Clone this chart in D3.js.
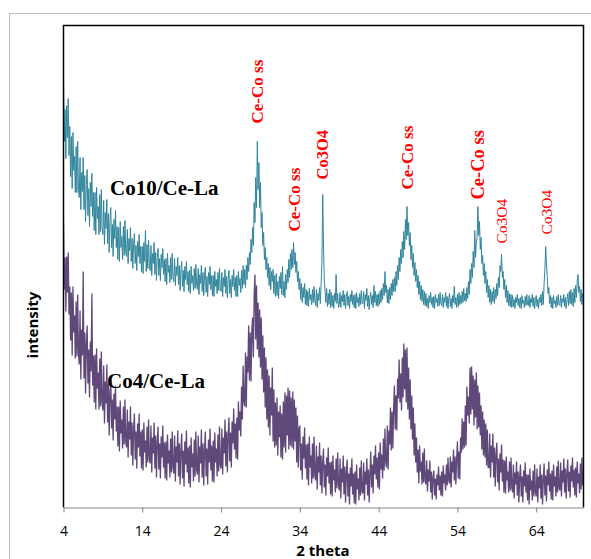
<!DOCTYPE html>
<html>
  <head>
    <title>XRD patterns Co10/Ce-La and Co4/Ce-La</title>
    <script src="https://d3js.org/d3.v7.min.js"></script>
    <style>
      body { margin: 0; background: #fff; }
      .tick text { font-family: "Open Sans", sans-serif; font-size: 14px; fill: #000; }
      .tick line, .domain { stroke: #868686; }
    </style>
  </head>
  <body>
    <div id="chart"></div>
    <script>
      // 2 theta grid of the scans: start and step (degrees)
      var theta0 = 4, thetaStep = 0.1;

      // intensity, one row per degree (4 ... 69), last value at 70
      var co10 = [
        427,366,398,349,402,370,409,352,381,331,
        371,319,375,337,351,315,361,315,366,317,
        310,350,298,335,316,350,298,332,286,323,
        338,292,319,281,325,301,334,291,315,277,
        315,273,320,289,301,273,313,276,318,279,
        273,307,263,295,279,308,264,294,255,287,
        300,260,283,251,288,269,297,260,281,248,
        280,246,286,260,271,248,281,252,287,255,
        251,278,244,269,257,280,246,269,239,264,
        274,244,262,237,266,251,273,244,261,236,
        261,234,265,246,277,236,263,239,267,242,
        237,262,232,254,244,265,233,255,227,250,
        259,232,249,227,253,240,259,233,248,226,
        249,223,254,235,242,225,250,228,254,230,
        226,249,222,241,232,250,223,242,217,238,
        246,221,237,216,241,228,246,223,236,216,
        237,214,241,224,232,217,239,219,243,222,
        218,239,213,233,224,242,216,235,212,232,
        240,215,231,211,235,223,241,218,232,212,
        232,211,236,221,228,214,235,217,239,219,
        216,235,211,230,221,238,214,231,210,228,
        237,214,228,210,232,221,238,217,230,211,
        232,211,236,222,229,215,237,219,242,223,
        238,220,242,228,250,236,255,243,268,255,
        280,262,305,285,330,300,366,318,345,300,
        325,280,295,262,275,248,260,238,250,230,
        244,222,240,218,236,226,238,214,232,211,
        234,212,226,209,231,219,235,213,241,212,
        226,210,233,218,238,225,248,230,254,238,
        258,240,265,243,255,235,246,226,236,218,
        229,208,224,205,220,210,224,203,218,202,
        216,201,219,208,213,203,218,205,221,207,
        202,218,200,214,207,220,204,224,245,313,
        262,228,216,205,219,201,214,203,218,200,
        215,201,212,199,214,206,233,204,214,200,
        203,215,200,212,206,217,202,213,199,211,
        216,202,211,199,213,206,217,203,212,200,
        213,199,215,205,210,201,214,203,217,204,
        204,216,199,213,207,219,201,212,198,210,
        215,203,212,200,222,205,216,202,213,201,
        214,203,217,205,219,208,224,212,236,215,
        222,205,218,204,220,208,224,212,228,216,
        230,216,236,222,242,228,250,236,258,244,
        266,250,276,258,288,268,301,272,285,262,
        275,248,262,240,254,232,245,226,238,220,
        232,213,226,208,222,206,218,203,216,202,
        214,201,209,199,212,205,215,203,210,200,
        211,199,213,205,209,201,213,202,215,204,
        202,213,200,210,205,215,201,211,199,209,
        214,201,209,199,212,205,221,203,210,200,
        213,201,215,203,212,204,216,205,219,207,
        214,206,220,209,226,213,238,224,244,230,
        256,240,277,250,265,270,301,272,286,258,
        270,244,252,232,244,224,236,215,228,210,
        222,205,218,203,216,206,220,204,218,209,
        224,212,230,220,242,236,253,230,236,218,
        228,210,222,205,217,202,214,201,213,200,
        212,201,208,199,210,205,213,202,209,200,
        210,199,212,204,207,200,211,202,213,203,
        202,212,200,209,205,213,201,210,199,208,
        212,201,208,199,210,205,213,202,216,203,
        224,238,261,244,230,214,220,204,212,200,
        210,199,212,204,207,200,211,202,213,203,
        202,212,200,209,205,213,201,210,199,208,
        214,202,216,204,218,203,215,201,219,205,
        222,210,226,233,215,221,206,218,203,214,
        206
      ];

      var co4 = [
        284,218,250,196,251,215,255,193,221,167,
        215,152,221,175,192,149,206,151,213,154,
        143,197,128,178,152,236,129,175,114,164,
        182,124,158,110,166,136,214,122,152,105,
        153,98,159,119,135,98,149,101,156,105,
        97,142,84,126,104,143,85,124,72,114,
        129,79,108,67,114,88,122,76,101,61,
        101,56,107,74,88,59,101,63,108,66,
        60,98,50,86,68,101,52,85,42,78,
        94,48,76,39,84,60,94,51,76,39,
        78,37,85,55,67,40,81,45,88,49,
        44,82,35,70,54,85,39,72,30,65,
        81,38,64,29,71,50,82,40,65,29,
        66,27,73,44,57,30,69,35,76,40,
        34,72,26,61,45,77,31,64,23,58,
        74,29,57,21,66,43,77,35,60,24,
        62,20,70,40,54,26,68,31,76,37,
        33,72,25,61,44,78,30,64,22,58,
        76,31,59,23,68,45,79,37,62,26,
        67,25,75,45,59,31,73,36,81,42,
        39,79,33,70,54,88,41,76,35,72,
        90,46,75,40,86,64,99,58,84,49,
        90,48,106,77,96,71,121,88,142,106,
        101,155,100,151,135,182,127,175,126,176,
        190,150,212,233,168,222,158,205,150,198,
        140,190,128,172,115,160,100,150,88,138,
        80,132,72,120,92,140,66,118,60,105,
        62,110,52,96,70,102,50,94,48,106,
        60,115,55,112,72,120,58,117,62,110,
        60,116,58,108,66,100,45,92,40,80,
        81,37,64,28,71,49,80,39,63,28,
        64,22,71,40,52,24,64,29,71,32,
        27,62,18,51,35,65,22,52,14,46,
        59,20,43,12,50,31,60,24,45,13,
        46,11,52,27,38,15,49,19,55,23,
        17,49,9,39,25,52,13,41,5,35,
        48,11,34,3,40,21,49,13,34,4,
        36,3,43,18,29,7,40,12,47,16,
        14,45,7,36,23,49,12,38,5,34,
        56,20,43,14,52,33,62,28,50,20,
        55,18,65,38,53,29,69,37,79,45,
        40,82,38,77,63,100,57,96,59,100,
        122,78,112,77,129,109,148,105,134,97,
        150,110,164,118,158,105,160,98,140,88,
        128,78,112,68,100,52,84,45,70,35,
        58,24,62,36,46,23,55,25,59,27,
        23,47,16,38,26,47,15,36,8,30,
        37,12,29,8,33,22,41,17,32,12,
        36,11,42,24,33,17,43,22,50,27,
        24,51,20,46,35,58,27,51,23,49,
        66,29,56,28,70,55,89,58,86,60,
        102,62,121,92,111,84,140,93,141,98,
        132,82,128,90,135,78,122,80,115,72,
        102,58,96,52,88,50,84,42,78,40,
        40,74,30,62,45,74,30,60,21,53,
        65,25,49,17,54,35,63,26,48,15,
        47,14,51,27,36,15,46,17,50,20,
        15,43,9,35,23,46,12,36,5,31,
        43,11,31,5,37,21,45,15,33,7,
        33,3,39,17,27,7,37,11,43,15,
        11,39,5,31,19,43,9,33,3,29,
        44,12,32,6,38,22,46,16,34,8,
        37,7,43,21,31,11,41,15,47,19,
        17,45,11,37,25,49,15,39,9,35,
        48,16,36,10,42,26,50,20,38,12,
        40,10,46,24,34,14,44,18,50,22,
        30
      ];

      var xTicks = [4, 14, 24, 34, 44, 54, 64];

      // phase labels: name, 2 theta, intensity level of the label foot
      var peakNames = ["Ce-Co ss", "Ce-Co ss", "Co3O4", "Ce-Co ss", "Ce-Co ss", "Co3O4", "Co3O4"];
      var peakTheta = [28.6, 33.2, 36.8, 47.6, 56.5, 59.6, 65.35];
      var peakLevel = [384, 276, 328, 318, 308, 264, 273];

      var width = 591, height = 559;
      var plotLeft = 63.5, plotRight = 583.5, plotTop = 25.5, plotBottom = 507.5;

      var svg = d3.select("#chart").append("svg")
        .attr("width", width)
        .attr("height", height);

      // outer chart border
      svg.append("rect")
        .attr("x", 9.5).attr("y", 13.5)
        .attr("width", 640).attr("height", 640)
        .attr("fill", "none")
        .attr("stroke", "#bfbfbf");

      var x = d3.scaleLinear().domain([4, 70]).range([plotLeft, plotRight]);
      var y = d3.scaleLinear().domain([0, 482]).range([plotBottom, plotTop]);

      svg.append("clipPath").attr("id", "plot")
        .append("rect")
        .attr("x", plotLeft).attr("y", plotTop)
        .attr("width", plotRight - plotLeft).attr("height", plotBottom - plotTop);

      var line = d3.line()
        .x(function (d, i) { return x(theta0 + i * thetaStep); })
        .y(function (d) { return y(d); });

      var g = svg.append("g").attr("clip-path", "url(#plot)");

      g.append("path")
        .datum(co4)
        .attr("d", line)
        .attr("fill", "none")
        .attr("stroke", "#5f497a")
        .attr("stroke-width", 1.3);

      g.append("path")
        .datum(co10)
        .attr("d", line)
        .attr("fill", "none")
        .attr("stroke", "#31859c")
        .attr("stroke-width", 1);

      // plot frame (left, top, right)
      svg.append("path")
        .attr("d", "M" + plotLeft + "," + plotBottom + "V" + plotTop + "H" + plotRight + "V" + plotBottom)
        .attr("fill", "none")
        .attr("stroke", "#000")
        .attr("stroke-width", 1.5);

      svg.append("g")
        .attr("transform", "translate(0," + plotBottom + ")")
        .call(d3.axisBottom(x)
          .tickValues(xTicks)
          .tickFormat(d3.format("d"))
          .tickSizeInner(5)
          .tickSizeOuter(0)
          .tickPadding(14));

      svg.append("text")
        .attr("x", 323).attr("y", 556)
        .attr("text-anchor", "middle")
        .style("font-family", "'Open Sans', sans-serif")
        .style("font-size", "15px")
        .style("font-weight", "bold")
        .text("2 theta");

      svg.append("text")
        .attr("transform", "translate(38,325) rotate(-90)")
        .attr("text-anchor", "middle")
        .style("font-family", "'Open Sans', sans-serif")
        .style("font-size", "15px")
        .style("font-weight", "bold")
        .text("intensity");

      // sample names
      svg.append("text")
        .attr("x", 110).attr("y", 195)
        .style("font-family", "'Liberation Serif', serif")
        .style("font-size", "21px")
        .style("font-weight", "bold")
        .text("Co10/Ce-La");

      svg.append("text")
        .attr("x", 107).attr("y", 388)
        .style("font-family", "'Liberation Serif', serif")
        .style("font-size", "21px")
        .style("font-weight", "bold")
        .text("Co4/Ce-La");

      // peak labels, rotated
      var labelSize = [17, 17, 16.5, 17, 18.5, 15.5, 15.5];
      var labelWeight = ["bold", "bold", "bold", "bold", "bold", "normal", "normal"];

      svg.selectAll(".peak")
        .data(peakNames)
        .enter()
        .append("text")
        .attr("class", "peak")
        .attr("transform", function (d, i) {
          return "translate(" + x(peakTheta[i]) + "," + y(peakLevel[i]) + ") rotate(-90)";
        })
        .attr("dy", "0.35em")
        .style("font-family", "'Liberation Serif', serif")
        .style("font-size", function (d, i) { return labelSize[i] + "px"; })
        .style("font-weight", function (d, i) { return labelWeight[i]; })
        .attr("fill", "#ff0000")
        .text(function (d) { return d; });
    </script>
  </body>
</html>
